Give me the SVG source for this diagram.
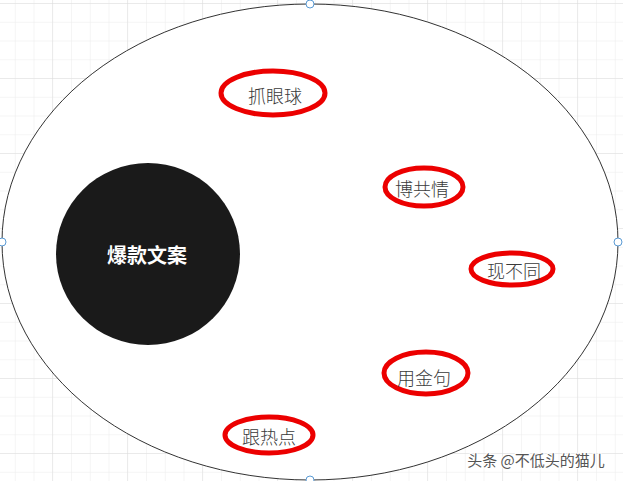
<svg xmlns="http://www.w3.org/2000/svg" width="623" height="481" viewBox="0 0 623 481">
<defs>
<pattern id="minor" x="-3" y="4" width="18.75" height="18.75" patternUnits="userSpaceOnUse">
<path d="M18.75 0V18.75M0 18.75H18.75" fill="none" stroke="#ececec" stroke-width="1"/>
</pattern>
<pattern id="major" x="-22" y="4" width="75" height="75" patternUnits="userSpaceOnUse">
<path d="M75 0V75M0 75H75" fill="none" stroke="#dedede" stroke-width="1"/>
</pattern>
</defs>
<style>
.lbl{font-family:"Noto Sans CJK SC","Liberation Sans",sans-serif;font-size:18px;font-weight:300;fill:#3a3a3a;text-anchor:middle;dominant-baseline:central}
.ring{fill:none;stroke:#ec0000;stroke-width:5}
.handle{fill:#fff;stroke:#5b9bd5;stroke-width:1}
</style>
<rect width="623" height="481" fill="#fff"/>
<rect width="623" height="481" fill="url(#minor)"/>
<rect width="623" height="481" fill="url(#major)"/>
<g id="outer">
<ellipse cx="310" cy="242" rx="308" ry="238" fill="#fff" stroke="#333" stroke-width="1"/>
<circle class="handle" cx="310" cy="4" r="4"/>
<circle class="handle" cx="2" cy="242" r="4"/>
<circle class="handle" cx="618" cy="242" r="4"/>
<circle class="handle" cx="310" cy="480" r="4"/>
</g>
<g id="core">
<ellipse cx="148" cy="254" rx="92" ry="91" fill="#1a1a1a"/>
<text x="147" y="254" style="font-family:'Noto Sans CJK SC','Liberation Sans',sans-serif;font-size:20px;font-weight:bold;fill:#fff;text-anchor:middle;dominant-baseline:central">爆款文案</text>
</g>
<g id="n1"><ellipse class="ring" cx="273" cy="93" rx="52" ry="22"/><text class="lbl" x="275" y="95">抓眼球</text></g>
<g id="n2"><ellipse class="ring" cx="424" cy="187" rx="39" ry="19"/><text class="lbl" x="422" y="188">博共情</text></g>
<g id="n3"><ellipse class="ring" cx="512" cy="269" rx="41" ry="16"/><text class="lbl" x="514" y="270">现不同</text></g>
<g id="n4"><ellipse class="ring" cx="426" cy="373" rx="42" ry="21"/><text class="lbl" x="424" y="377">用金句</text></g>
<g id="n5"><ellipse class="ring" cx="269" cy="435" rx="44" ry="18"/><text class="lbl" x="269" y="436">跟热点</text></g>
<g id="connectors"/>
<text x="536" y="459" style="font-family:'Noto Sans CJK SC','Liberation Sans',sans-serif;font-size:15px;fill:#555;text-anchor:middle;dominant-baseline:central;stroke:#fff;stroke-width:2;paint-order:stroke">头条 @不低头的猫儿</text>
</svg>
